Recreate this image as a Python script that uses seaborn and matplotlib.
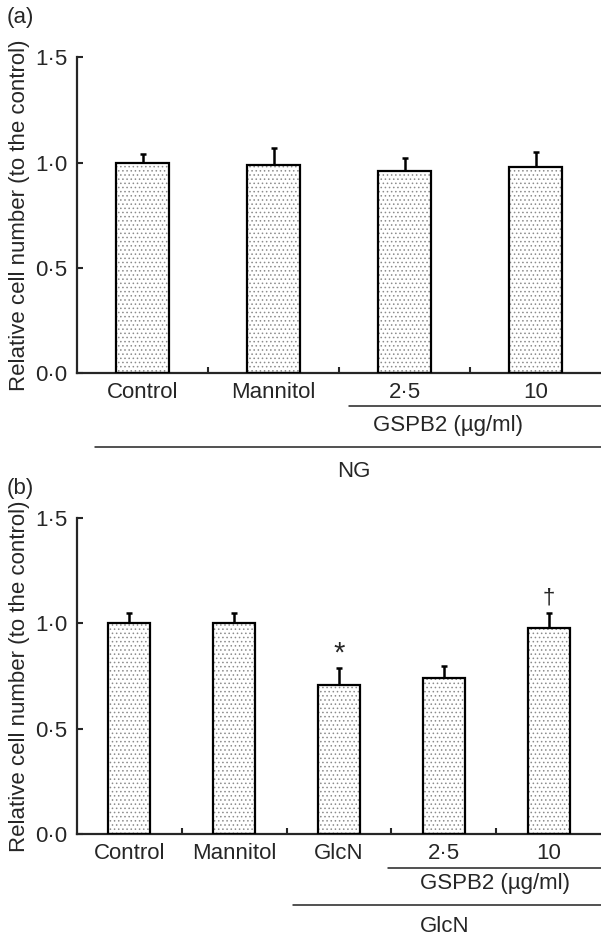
import numpy as np
import pandas as pd
import matplotlib
matplotlib.use('Agg')
import matplotlib.pyplot as plt
import matplotlib.transforms as mtransforms
from matplotlib.ticker import FuncFormatter, FixedLocator
import seaborn as sns

# panel (a): normal glucose
a_labels = ['Control', 'Mannitol', '2·5', '10']
a_means = [1.00, 0.99, 0.96, 0.98]
a_errs = [0.04, 0.08, 0.06, 0.07]

# panel (b): glucosamine
b_labels = ['Control', 'Mannitol', 'GlcN', '2·5', '10']
b_means = [1.00, 1.00, 0.71, 0.74, 0.98]
b_errs = [0.05, 0.05, 0.08, 0.06, 0.07]
b_marks = ['', '', '*', '', '†']

y_ticks = [0.0, 0.5, 1.0, 1.5]
y_label = 'Relative cell number (to the control)'

sns.set_style('ticks')
plt.rcParams['font.family'] = ['Liberation Sans', 'DejaVu Sans']
plt.rcParams['font.size'] = 16
plt.rcParams['hatch.linewidth'] = 0.6

FS = 16
W, H = 601, 935
fig = plt.figure(figsize=(W / 100, H / 100), dpi=100)


def fy(py):
    return 1 - py / H


def draw_panel(ax, labels, means, errs):
    df = pd.DataFrame({'group': labels, 'value': means})
    # dotted fill (grey dots), then the black outline on top
    sns.barplot(data=df, x='group', y='value', order=labels, ax=ax,
                color='white', edgecolor='#8c8c8c', linewidth=0,
                width=0.4, errorbar=None, hatch='....', zorder=2)
    sns.barplot(data=df, x='group', y='value', order=labels, ax=ax,
                fill=False, color='black', linewidth=1.6,
                width=0.4, errorbar=None, zorder=3)
    x = np.arange(len(labels))
    ax.errorbar(x, means, yerr=[np.zeros(len(errs)), errs], fmt='none',
                ecolor='black', elinewidth=1.8, capsize=2.4, capthick=1.8,
                zorder=1)
    ax.set_xlim(-0.5, len(labels) - 0.5)
    ax.set_ylim(0, 1.5)
    ax.set_yticks(y_ticks)
    ax.yaxis.set_major_formatter(FuncFormatter(lambda v, p: f'{v:.1f}'.replace('.', '·')))
    ax.xaxis.set_minor_locator(FixedLocator(np.arange(len(labels) - 1) + 0.5))
    ax.tick_params(axis='x', which='major', length=0, pad=6, labelsize=FS)
    ax.tick_params(axis='x', which='minor', direction='in', length=4, width=1.5)
    ax.tick_params(axis='y', direction='in', length=4, width=1.5, pad=7, labelsize=FS)
    ax.set_xlabel('')
    ax.set_ylabel(y_label, fontsize=FS)
    ax.yaxis.set_label_coords(-0.09, 0.5)
    for s in ['left', 'bottom']:
        ax.spines[s].set_linewidth(1.6)
    sns.despine(ax=ax)


# ---- panel (a)
ax1 = fig.add_axes([77 / W, fy(373.4), 524 / W, (373.4 - 57.3) / H])
draw_panel(ax1, a_labels, a_means, a_errs)
t1 = mtransforms.blended_transform_factory(ax1.transData, fig.transFigure)
ax1.plot([1.58, 3.5], [fy(406), fy(406)], color='#222222', lw=1.1,
         transform=t1, clip_on=False)
ax1.text(2.33, fy(426), 'GSPB2 (µg/ml)', ha='center', va='center',
         transform=t1, fontsize=FS)
ax1.plot([-0.36, 3.5], [fy(447), fy(447)], color='#222222', lw=1.1,
         transform=t1, clip_on=False)
ax1.text(1.61, fy(471), 'NG', ha='center', va='center', transform=t1, fontsize=FS)
fig.text(7 / W, fy(18), '(a)', ha='left', va='center', fontsize=FS)

# ---- panel (b)
ax2 = fig.add_axes([77 / W, fy(834.3), 524 / W, (834.3 - 518) / H])
draw_panel(ax2, b_labels, b_means, b_errs)
for i, m in enumerate(b_marks):
    if m == '*':
        ax2.text(i, b_means[i] + b_errs[i] + 0.0, m, ha='center', va='bottom',
                 fontsize=21)
    elif m:
        ax2.text(i, b_means[i] + b_errs[i] + 0.02, m, ha='center', va='bottom',
                 fontsize=16)
t2 = mtransforms.blended_transform_factory(ax2.transData, fig.transFigure)
ax2.plot([2.47, 4.5], [fy(867.7), fy(867.7)], color='#222222', lw=1.1,
         transform=t2, clip_on=False)
ax2.text(3.49, fy(884), 'GSPB2 (µg/ml)', ha='center', va='center',
         transform=t2, fontsize=FS)
ax2.plot([1.56, 4.5], [fy(905.3), fy(905.3)], color='#222222', lw=1.1,
         transform=t2, clip_on=False)
ax2.text(3.01, fy(926), 'GlcN', ha='center', va='center', transform=t2, fontsize=FS)
fig.text(7 / W, fy(489), '(b)', ha='left', va='center', fontsize=FS)

fig.savefig('out.png', dpi=100)
